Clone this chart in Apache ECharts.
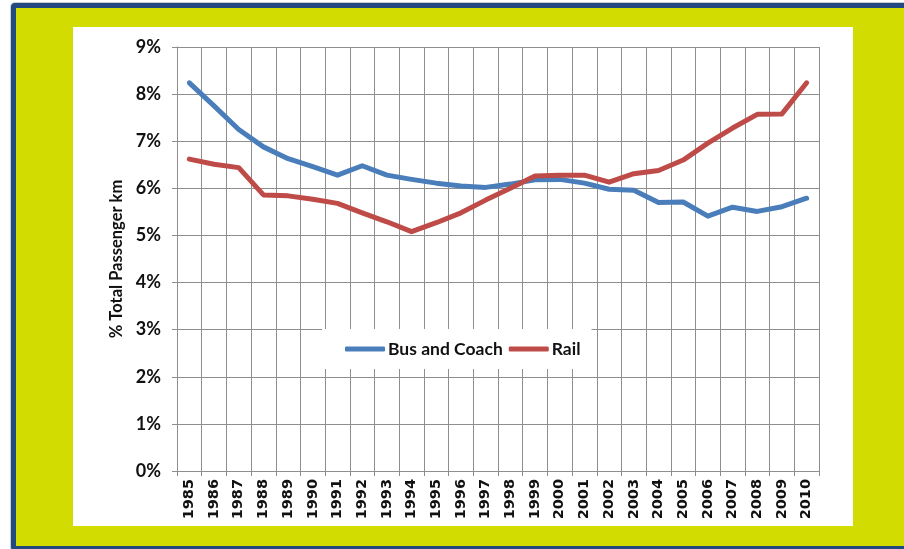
<!DOCTYPE html>
<html>
<head>
<meta charset="utf-8">
<script src="https://cdn.jsdelivr.net/npm/echarts@6/dist/echarts.min.js"></script>
<style>
  html, body { margin: 0; padding: 0; width: 904px; height: 549px; overflow: hidden; background: #ffffff; }
  #frame {
    position: absolute; left: 11px; top: 3px; width: 1000px; height: 548px;
    box-sizing: border-box; border: 5px solid #21497f; border-radius: 4px;
    background: #d3dc00; box-shadow: 0 0 0 1px #c9ccd2;
  }
  #panel { position: absolute; left: 73px; top: 27px; width: 780px; height: 499px; background: #ffffff; }
  #chart { position: absolute; left: 0; top: 0; width: 904px; height: 549px; }
</style>
</head>
<body>
<div id="frame"></div>
<div id="panel"></div>
<div id="chart"></div>
<script>
// Share of total passenger km by mode, 1985-2010 (percent)
const years = ['1985','1986','1987','1988','1989','1990','1991','1992','1993','1994','1995','1996','1997',
               '1998','1999','2000','2001','2002','2003','2004','2005','2006','2007','2008','2009','2010'];
const busAndCoach = [8.24, 7.75, 7.25, 6.88, 6.63, 6.46, 6.28, 6.48, 6.28, 6.19, 6.11, 6.05, 6.02,
                     6.09, 6.18, 6.19, 6.11, 5.98, 5.96, 5.70, 5.71, 5.41, 5.60, 5.51, 5.61, 5.79];
const rail = [6.62, 6.51, 6.44, 5.86, 5.84, 5.77, 5.68, 5.48, 5.29, 5.08, 5.27, 5.48, 5.75,
              6.00, 6.26, 6.28, 6.28, 6.13, 6.31, 6.38, 6.60, 6.96, 7.28, 7.57, 7.58, 8.24];
const yTicks = { min: 0, max: 9, step: 1 };

const gridGray = '#8e8e8e';
const chart = echarts.init(document.getElementById('chart'), null, { renderer: 'canvas' });
chart.setOption({
  backgroundColor: 'transparent',
  animation: false,
  grid: { left: 177, top: 47, right: 85, bottom: 78, containLabel: false },
  legend: {
    left: 322, top: 329,
    padding: [11, 11, 11, 23],
    backgroundColor: '#ffffff',
    icon: 'roundRect',
    itemWidth: 40, itemHeight: 5, itemGap: 6,
    textStyle: { fontFamily: 'Lato', fontWeight: 'bold', fontSize: 17.5, color: '#111', padding: [0, 0, 0, -2] },
    data: ['Bus and Coach', 'Rail']
  },
  xAxis: {
    type: 'category',
    data: years,
    boundaryGap: true,
    axisLine: { lineStyle: { color: gridGray, width: 1 } },
    axisTick: { show: true, length: 5, lineStyle: { color: gridGray } },
    splitLine: { show: true, interval: 0, lineStyle: { color: gridGray, width: 1 } },
    axisLabel: {
      interval: 0, rotate: 90, margin: 8,
      fontFamily: 'DejaVu Sans', fontWeight: 'bold', fontSize: 14.5, color: '#111'
    }
  },
  yAxis: {
    type: 'value',
    min: yTicks.min, max: yTicks.max, interval: yTicks.step,
    name: '% Total Passenger km',
    nameLocation: 'middle', nameRotate: 90, nameGap: 52,
    nameTextStyle: { fontFamily: 'Lato', fontWeight: 'bold', fontSize: 16.5, color: '#111' },
    axisLine: { show: true, lineStyle: { color: gridGray, width: 1 } },
    axisTick: { show: true, length: 5, lineStyle: { color: gridGray } },
    splitLine: { show: true, lineStyle: { color: gridGray, width: 1 } },
    axisLabel: {
      formatter: '{value}%', margin: 16,
      fontFamily: 'Lato', fontWeight: 'bold', fontSize: 18, color: '#111'
    }
  },
  series: [
    {
      name: 'Bus and Coach', type: 'line', data: busAndCoach,
      symbol: 'none', smooth: false,
      itemStyle: { color: '#4a7ebb' },
      lineStyle: { color: '#4a7ebb', width: 5, cap: 'round', join: 'round' }
    },
    {
      name: 'Rail', type: 'line', data: rail,
      symbol: 'none', smooth: false,
      itemStyle: { color: '#be4b48' },
      lineStyle: { color: '#be4b48', width: 5, cap: 'round', join: 'round' }
    }
  ]
});
</script>
</body>
</html>
